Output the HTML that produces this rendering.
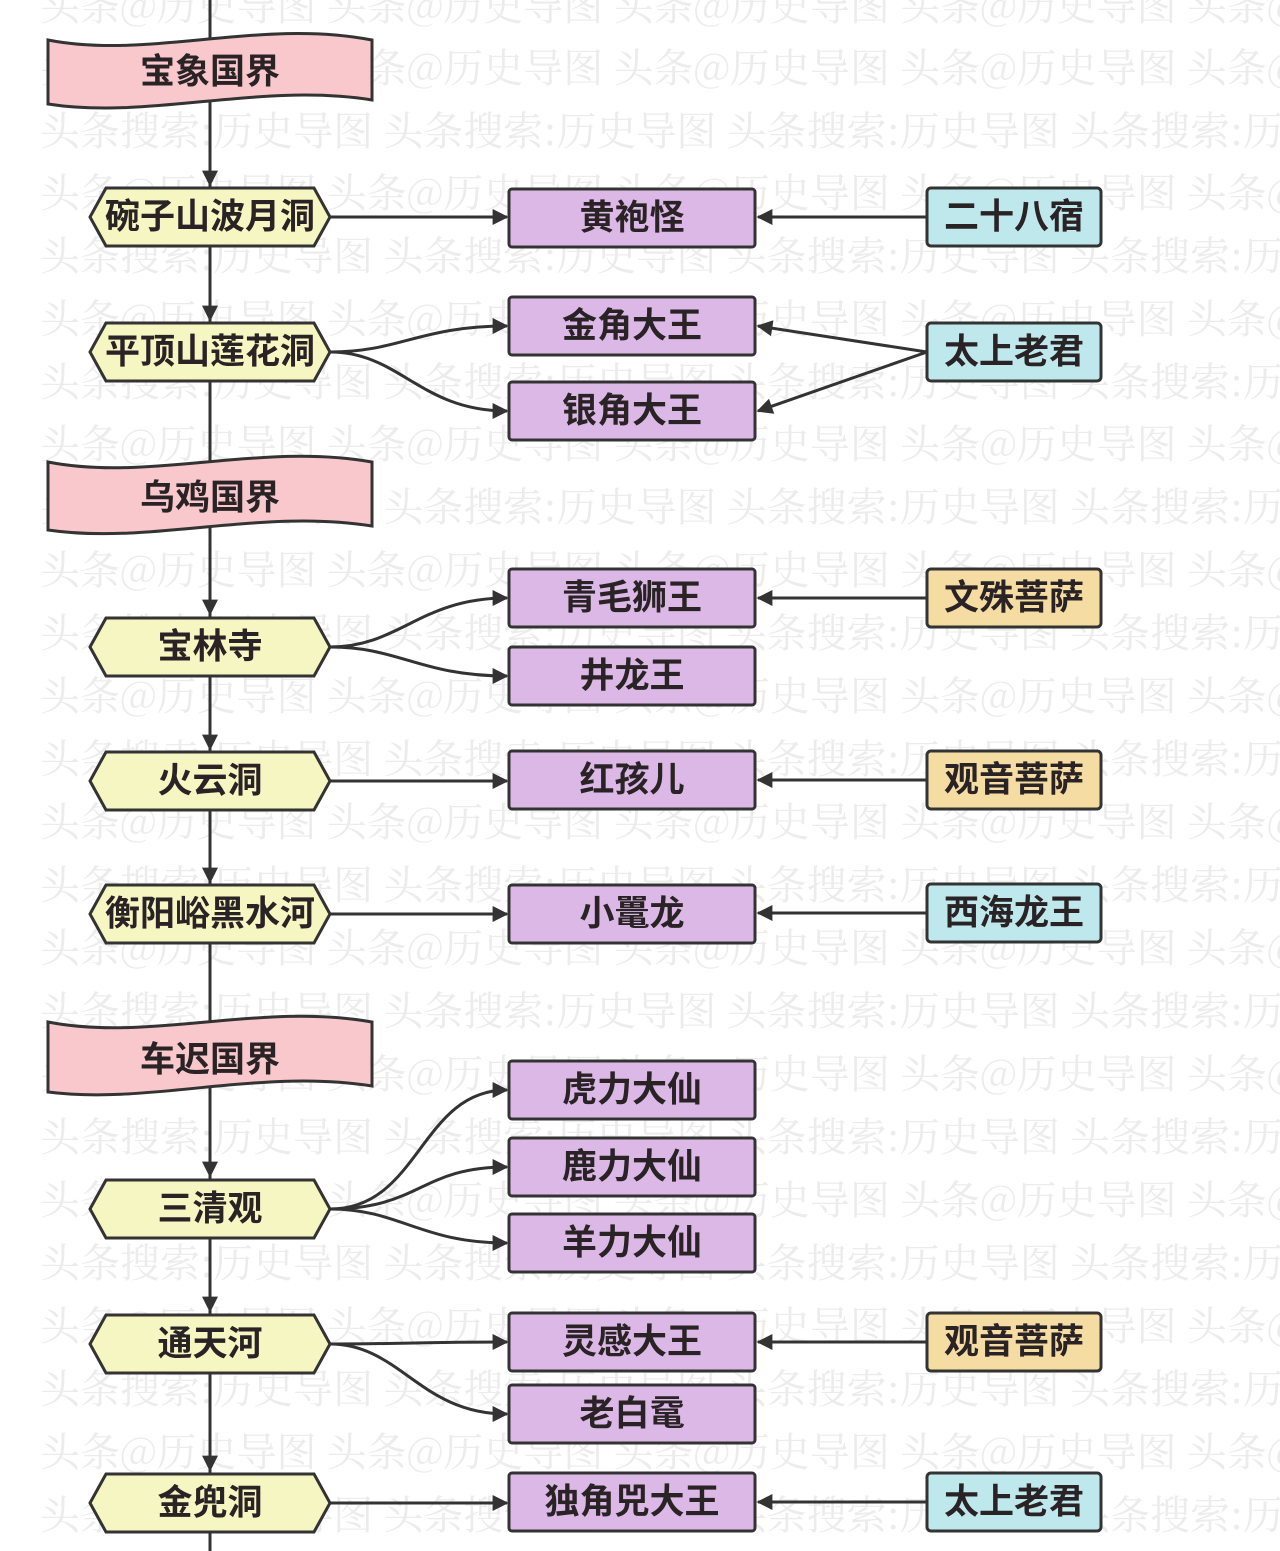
<!DOCTYPE html>
<html><head><meta charset="utf-8"><style>
html,body{margin:0;padding:0;background:#fff;}
svg{display:block}
text{font-family:"Liberation Sans","Noto Sans CJK SC",sans-serif;font-weight:bold;}
.wm{fill:#ececec;font-size:40px;font-weight:normal;font-family:"Noto Serif CJK SC",serif;}
.lb{font-size:35px;fill:#2a2326;text-anchor:middle;dominant-baseline:central;}
</style></head><body>
<svg width="1280" height="1551" viewBox="0 0 1280 1551">
<defs>
<marker id="b" viewBox="0 0 10 10" markerWidth="20" markerHeight="16" refX="9" refY="5" orient="auto" markerUnits="userSpaceOnUse"><path d="M0,0 L10,5 L0,10 Z" fill="#333"/></marker></defs>
<g>
<text class="wm" x="40" y="20">头条@历史导图 头条@历史导图 头条@历史导图 头条@历史导图 头条@历史导图 头条@历史导图</text>
<text class="wm" x="40" y="82">头条@历史导图 头条@历史导图 头条@历史导图 头条@历史导图 头条@历史导图 头条@历史导图</text>
<text class="wm" x="40" y="145">头条搜索:历史导图 头条搜索:历史导图 头条搜索:历史导图 头条搜索:历史导图 头条</text>
<text class="wm" x="40" y="207">头条@历史导图 头条@历史导图 头条@历史导图 头条@历史导图 头条@历史导图 头条@历史导图</text>
<text class="wm" x="40" y="270">头条搜索:历史导图 头条搜索:历史导图 头条搜索:历史导图 头条搜索:历史导图 头条</text>
<text class="wm" x="40" y="333">头条@历史导图 头条@历史导图 头条@历史导图 头条@历史导图 头条@历史导图 头条@历史导图</text>
<text class="wm" x="40" y="396">头条搜索:历史导图 头条搜索:历史导图 头条搜索:历史导图 头条搜索:历史导图 头条</text>
<text class="wm" x="40" y="458">头条@历史导图 头条@历史导图 头条@历史导图 头条@历史导图 头条@历史导图 头条@历史导图</text>
<text class="wm" x="40" y="521">头条搜索:历史导图 头条搜索:历史导图 头条搜索:历史导图 头条搜索:历史导图 头条</text>
<text class="wm" x="40" y="584">头条@历史导图 头条@历史导图 头条@历史导图 头条@历史导图 头条@历史导图 头条@历史导图</text>
<text class="wm" x="40" y="647">头条搜索:历史导图 头条搜索:历史导图 头条搜索:历史导图 头条搜索:历史导图 头条</text>
<text class="wm" x="40" y="710">头条@历史导图 头条@历史导图 头条@历史导图 头条@历史导图 头条@历史导图 头条@历史导图</text>
<text class="wm" x="40" y="773">头条搜索:历史导图 头条搜索:历史导图 头条搜索:历史导图 头条搜索:历史导图 头条</text>
<text class="wm" x="40" y="836">头条@历史导图 头条@历史导图 头条@历史导图 头条@历史导图 头条@历史导图 头条@历史导图</text>
<text class="wm" x="40" y="899">头条搜索:历史导图 头条搜索:历史导图 头条搜索:历史导图 头条搜索:历史导图 头条</text>
<text class="wm" x="40" y="962">头条@历史导图 头条@历史导图 头条@历史导图 头条@历史导图 头条@历史导图</text>
<text class="wm" x="40" y="1025">头条搜索:历史导图 头条搜索:历史导图 头条搜索:历史导图 头条搜索:历史导图 头条</text>
<text class="wm" x="40" y="1088">头条@历史导图 头条@历史导图 头条@历史导图 头条@历史导图 头条@历史导图 头条@历史导图</text>
<text class="wm" x="40" y="1151">头条搜索:历史导图 头条搜索:历史导图 头条搜索:历史导图 头条搜索:历史导图 头条</text>
<text class="wm" x="40" y="1214">头条@历史导图 头条@历史导图 头条@历史导图 头条@历史导图 头条@历史导图 头条@历史导图</text>
<text class="wm" x="40" y="1277">头条搜索:历史导图 头条搜索:历史导图 头条搜索:历史导图 头条搜索:历史导图 头条</text>
<text class="wm" x="40" y="1340">头条@历史导图 头条@历史导图 头条@历史导图 头条@历史导图 头条@历史导图 头条@历史导图</text>
<text class="wm" x="40" y="1403">头条搜索:历史导图 头条搜索:历史导图 头条搜索:历史导图 头条搜索:历史导图 头条</text>
<text class="wm" x="40" y="1466">头条@历史导图 头条@历史导图 头条@历史导图 头条@历史导图 头条@历史导图 头条@历史导图</text>
<text class="wm" x="40" y="1529">头条搜索:历史导图 头条搜索:历史导图 头条搜索:历史导图 头条搜索:历史导图 头条</text>
</g>
<g stroke="#333" stroke-width="3" fill="none">
<line x1="210" y1="0" x2="210" y2="1551"/>
<path d="M210,140 v45" marker-end="url(#b)"/><path d="M210,280 v40" marker-end="url(#b)"/>
<path d="M210,570 v44" marker-end="url(#b)"/><path d="M210,700 v49" marker-end="url(#b)"/>
<path d="M210,840 v42" marker-end="url(#b)"/><path d="M210,1130 v46" marker-end="url(#b)"/>
<path d="M210,1260 v51" marker-end="url(#b)"/><path d="M210,1420 v50" marker-end="url(#b)"/>
<path d="M330,217 H507" marker-end="url(#b)"/>
<path d="M330,352 C400,352 420,326 507,326" marker-end="url(#b)"/>
<path d="M330,352 C400,352 420,411 507,411" marker-end="url(#b)"/>
<path d="M330,647 C400,647 420,598 507,598" marker-end="url(#b)"/>
<path d="M330,647 C400,647 420,676 507,676" marker-end="url(#b)"/>
<path d="M330,781 H507" marker-end="url(#b)"/>
<path d="M330,914 H507" marker-end="url(#b)"/>
<path d="M330,1209 C420,1209 420,1090 507,1090" marker-end="url(#b)"/>
<path d="M330,1209 C420,1209 420,1167 507,1167" marker-end="url(#b)"/>
<path d="M330,1209 C400,1209 420,1243 507,1243" marker-end="url(#b)"/>
<path d="M330,1344 C400,1344 420,1342 507,1342" marker-end="url(#b)"/>
<path d="M330,1344 C400,1344 420,1414 507,1414" marker-end="url(#b)"/>
<path d="M330,1503 H507" marker-end="url(#b)"/>
<path d="M927,217 H758" marker-end="url(#b)"/>
<path d="M927,352 L758,326" marker-end="url(#b)"/>
<path d="M927,352 L758,411" marker-end="url(#b)"/>
<path d="M927,598 H758" marker-end="url(#b)"/>
<path d="M927,780 H758" marker-end="url(#b)"/>
<path d="M927,913 H758" marker-end="url(#b)"/>
<path d="M927,1342 H758" marker-end="url(#b)"/>
<path d="M927,1502 H758" marker-end="url(#b)"/>
</g>
<g stroke="#333" stroke-width="3" fill="#f8c8cc">
<path d="M48,40 C150,60 260,18 372,40 V100 C260,82 150,120 48,104 Z"/>
<path d="M48,462 C150,482 260,442 372,462 V526 C260,508 150,545 48,530 Z"/>
<path d="M48,1022 C150,1042 260,1002 372,1022 V1086 C260,1068 150,1105 48,1092 Z"/>
</g>
<text class="lb" x="210" y="72">宝象国界</text>
<text class="lb" x="210" y="498">乌鸡国界</text>
<text class="lb" x="210" y="1060">车迟国界</text>
<g stroke="#333" stroke-width="3" fill="#f6f6c2">
<path d="M106,188 H314 L330,217 L314,246 H106 L90,217 Z"/>
<path d="M106,323 H314 L330,352 L314,381 H106 L90,352 Z"/>
<path d="M106,618 H314 L330,647 L314,676 H106 L90,647 Z"/>
<path d="M106,752 H314 L330,781 L314,810 H106 L90,781 Z"/>
<path d="M106,885 H314 L330,914 L314,943 H106 L90,914 Z"/>
<path d="M106,1180 H314 L330,1209 L314,1238 H106 L90,1209 Z"/>
<path d="M106,1315 H314 L330,1344 L314,1373 H106 L90,1344 Z"/>
<path d="M106,1474 H314 L330,1503 L314,1532 H106 L90,1503 Z"/>
</g>
<text class="lb" x="210" y="217">碗子山波月洞</text>
<text class="lb" x="210" y="352">平顶山莲花洞</text>
<text class="lb" x="210" y="647">宝林寺</text>
<text class="lb" x="210" y="781">火云洞</text>
<text class="lb" x="210" y="914">衡阳峪黑水河</text>
<text class="lb" x="210" y="1209">三清观</text>
<text class="lb" x="210" y="1344">通天河</text>
<text class="lb" x="210" y="1503">金兜洞</text>
<g stroke="#333" stroke-width="3" fill="#dcb8e6">
<rect x="509" y="189" width="246" height="58" rx="3"/>
<rect x="509" y="297" width="246" height="58" rx="3"/>
<rect x="509" y="382" width="246" height="58" rx="3"/>
<rect x="509" y="569" width="246" height="58" rx="3"/>
<rect x="509" y="647" width="246" height="58" rx="3"/>
<rect x="509" y="751" width="246" height="58" rx="3"/>
<rect x="509" y="885" width="246" height="58" rx="3"/>
<rect x="509" y="1061" width="246" height="58" rx="3"/>
<rect x="509" y="1138" width="246" height="58" rx="3"/>
<rect x="509" y="1214" width="246" height="58" rx="3"/>
<rect x="509" y="1313" width="246" height="58" rx="3"/>
<rect x="509" y="1385" width="246" height="58" rx="3"/>
<rect x="509" y="1473" width="246" height="58" rx="3"/>
</g>
<text class="lb" x="632" y="218">黄袍怪</text>
<text class="lb" x="632" y="326">金角大王</text>
<text class="lb" x="632" y="411">银角大王</text>
<text class="lb" x="632" y="598">青毛狮王</text>
<text class="lb" x="632" y="676">井龙王</text>
<text class="lb" x="632" y="780">红孩儿</text>
<text class="lb" x="632" y="914">小鼍龙</text>
<text class="lb" x="632" y="1090">虎力大仙</text>
<text class="lb" x="632" y="1167">鹿力大仙</text>
<text class="lb" x="632" y="1243">羊力大仙</text>
<text class="lb" x="632" y="1342">灵感大王</text>
<text class="lb" x="632" y="1414">老白鼋</text>
<text class="lb" x="632" y="1502">独角兕大王</text>
<g stroke="#333" stroke-width="3">
<rect x="927" y="188" width="174" height="58" rx="4" fill="#bfe8ec"/>
<rect x="927" y="323" width="174" height="58" rx="4" fill="#bfe8ec"/>
<rect x="927" y="569" width="174" height="58" rx="4" fill="#f5dca2"/>
<rect x="927" y="751" width="174" height="58" rx="4" fill="#f5dca2"/>
<rect x="927" y="884" width="174" height="58" rx="4" fill="#bfe8ec"/>
<rect x="927" y="1313" width="174" height="58" rx="4" fill="#f5dca2"/>
<rect x="927" y="1473" width="174" height="58" rx="4" fill="#bfe8ec"/>
</g>
<text class="lb" x="1014" y="217">二十八宿</text>
<text class="lb" x="1014" y="352">太上老君</text>
<text class="lb" x="1014" y="598">文殊菩萨</text>
<text class="lb" x="1014" y="780">观音菩萨</text>
<text class="lb" x="1014" y="913">西海龙王</text>
<text class="lb" x="1014" y="1342">观音菩萨</text>
<text class="lb" x="1014" y="1502">太上老君</text>
</svg>
</body></html>
